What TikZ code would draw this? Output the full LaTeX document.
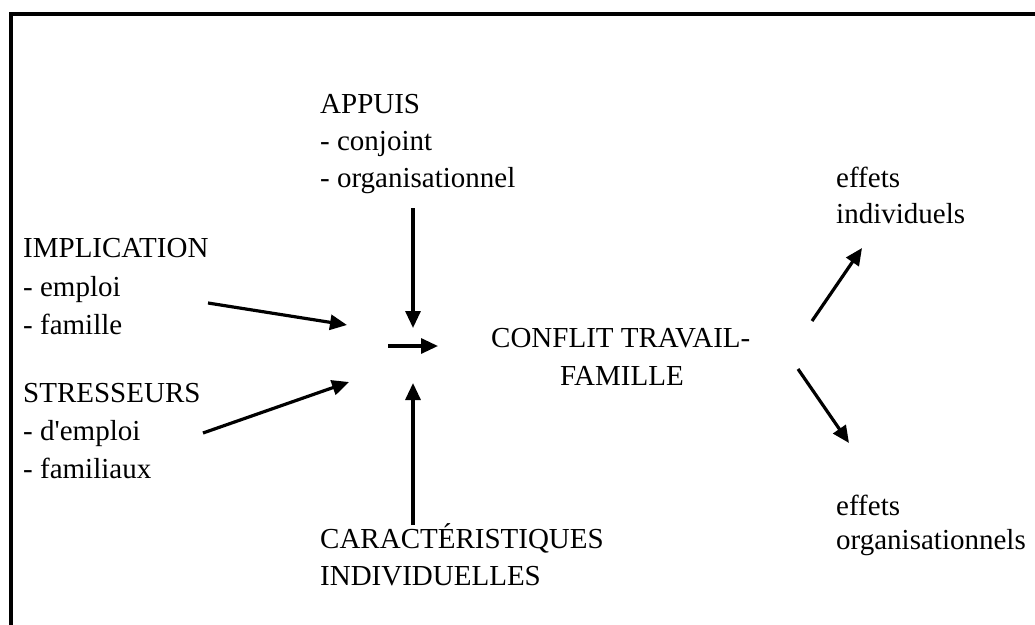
\documentclass[tikz,border=0pt]{standalone}
\usepackage{fontspec}
\newfontfamily\tnr{Liberation Serif}
\usetikzlibrary{arrows.meta}
\begin{document}
\begin{tikzpicture}[x=1pt,y=-1pt,
  lbl/.style={anchor=base west,inner sep=0pt,font=\tnr\fontsize{29}{34}\selectfont},
  link/.style={line width=3.2pt,-{Triangle[length=17pt,width=15pt]}}]
\useasboundingbox (0,0) rectangle (1035,624);
\clip (0,0) rectangle (1035,624);
% outer frame (runs past the right and bottom edges)
\draw[line width=3.2pt] (11,14) rectangle (1060,650);

% moderators: supports
\node[lbl] (app1) at (320,113) {APPUIS};
\node[lbl] (app2) at (320,150) {- conjoint};
\node[lbl] (app3) at (320,187) {- organisationnel};
% antecedents
\node[lbl] (imp1) at (23,257) {IMPLICATION};
\node[lbl] (imp2) at (23,296) {- emploi};
\node[lbl] (imp3) at (23,334) {- famille};
\node[lbl] (str1) at (23,402) {STRESSEURS};
\node[lbl] (str2) at (23,440) {- d'emploi};
\node[lbl] (str3) at (23,478) {- familiaux};
% individual characteristics
\node[lbl] (car1) at (320,548) {CARACTÉRISTIQUES};
\node[lbl] (car2) at (320,585) {INDIVIDUELLES};
% central construct
\node[lbl] (con1) at (491,347) {CONFLIT TRAVAIL-};
\node[lbl] (con2) at (560,385) {FAMILLE};
% outcomes
\node[lbl] (ind1) at (836,187) {effets};
\node[lbl] (ind2) at (836,223) {individuels};
\node[lbl] (org1) at (836,515) {effets};
\node[lbl] (org2) at (836,549) {organisationnels};

% arrow end points
\coordinate (impS) at (208,303);  \coordinate (impE) at (347,325);
\coordinate (strS) at (203,433);  \coordinate (strE) at (349,382);
\coordinate (appS) at (413,208);  \coordinate (appE) at (413,328);
\coordinate (carS) at (413,525);  \coordinate (carE) at (413,383);
\coordinate (hubS) at (388,346);  \coordinate (hubE) at (438,346);
\coordinate (indS) at (812,321);  \coordinate (indE) at (862,248);
\coordinate (orgS) at (798,369);  \coordinate (orgE) at (849,443);

\draw[link] (impS) -- (impE);
\draw[link] (strS) -- (strE);
\draw[link] (appS) -- (appE);
\draw[link] (carS) -- (carE);
\draw[link] (hubS) -- (hubE);
\draw[link] (indS) -- (indE);
\draw[link] (orgS) -- (orgE);
\end{tikzpicture}
\end{document}
